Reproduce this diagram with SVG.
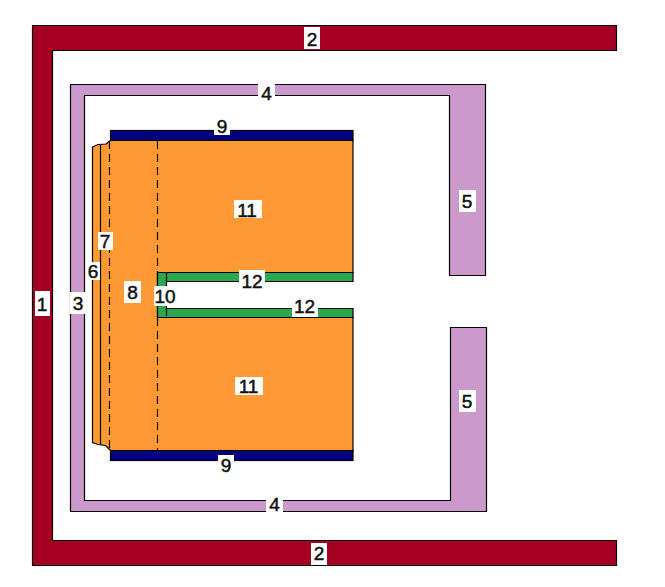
<svg xmlns="http://www.w3.org/2000/svg" width="665" height="587" viewBox="0 0 665 587">
<style>
.s{stroke:#000;stroke-width:1.2;stroke-linejoin:miter}
.d{fill:none;stroke:#000;stroke-width:1.2;stroke-dasharray:8 5}
.b{fill:#fff}
text{font-family:"Liberation Sans",Arial,sans-serif;font-size:19px;fill:#111;text-anchor:middle;stroke:#111;stroke-width:.5}
</style>
<rect width="665" height="587" fill="#fff"/>
<g id="shapes">
<path id="wall" class="s" fill="#a50021" d="M616.5 25.5H32.5V565.5H616.5V540.5H52.5V50.5H616.5Z"/>
<path id="liner" class="s" fill="#cc99cc" d="M485.5 84.5H70.5V511.5H486.5V327.5H450.5V500.5H84.5V95.5H449.5V275.5H485.5Z"/>
<rect id="top9" class="s" fill="#000080" x="110.5" y="130.5" width="242.5" height="10"/>
<rect id="bottom9" class="s" fill="#000080" x="110.5" y="450.5" width="242.5" height="10"/>
<path id="core" class="s" fill="#ff9933" d="M92.5 147L98 144.5L106 144L109 141.5L110.5 140.5H353V272.5H157.5V317.5H353V450.5H110.5L109 449L105.5 445.5L98 444.5L92.5 442.5Z"/>
<path id="green" class="s" fill="#2aa84e" d="M157.5 272.5H353V281.5H166.5V308.5H353V317.5H157.5Z"/>
<path class="s" fill="none" d="M100.5 144.5V445"/>
<path class="d" d="M109.5 141V450"/>
<path class="d" d="M157.5 141V272M157.5 318V450"/>
<path class="d" d="M166.5 273V281M166.5 308V317"/>
</g>
<g id="labels">
<g id="l1"><rect class="b" x="35" y="291" width="15" height="25"/><text x="42" y="311">1</text></g>
<g id="l2a"><rect class="b" x="304" y="27" width="16" height="22"/><text x="312" y="45.5">2</text></g>
<g id="l2b"><rect class="b" x="311" y="543" width="16" height="22"/><text x="319" y="560">2</text></g>
<g id="l3"><rect class="b" x="70" y="292" width="16" height="22"/><text x="78" y="310">3</text></g>
<g id="l4a"><rect class="b" x="258" y="82" width="17" height="20"/><text x="266.5" y="100">4</text></g>
<g id="l4b"><rect class="b" x="266" y="495" width="17" height="20"/><text x="274.5" y="511">4</text></g>
<g id="l5a"><rect class="b" x="459" y="190" width="17" height="22"/><text x="467" y="207.5">5</text></g>
<g id="l5b"><rect class="b" x="459" y="390" width="17" height="22"/><text x="467" y="407.5">5</text></g>
<g id="l6"><rect class="b" x="86" y="262" width="14" height="18"/><text x="93" y="277.5">6</text></g>
<g id="l7"><rect class="b" x="98" y="232" width="15" height="18"/><text x="105" y="247.5">7</text></g>
<g id="l8"><rect class="b" x="124" y="281" width="17" height="22"/><text x="132.5" y="299">8</text></g>
<g id="l9a"><rect class="b" x="214" y="118" width="16" height="17"/><text x="222" y="132.5">9</text></g>
<g id="l9b"><rect class="b" x="218" y="455" width="16" height="18"/><text x="226" y="471.5">9</text></g>
<g id="l10"><rect class="b" x="154" y="286" width="22" height="20"/><text x="165" y="302.5">10</text></g>
<g id="l11a"><rect class="b" x="234" y="200" width="28" height="18"/><text x="247" y="216.5">11</text></g>
<g id="l11b"><rect class="b" x="235" y="377" width="28" height="18"/><text x="248.5" y="393">11</text></g>
<g id="l12a"><rect class="b" x="239" y="270" width="26" height="22"/><text x="252" y="287.5">12</text></g>
<g id="l12b"><rect class="b" x="292" y="298" width="26" height="19"/><text x="304.5" y="312.5">12</text></g>
</g>
</svg>
